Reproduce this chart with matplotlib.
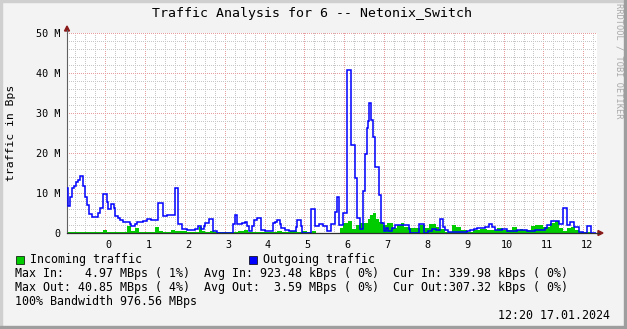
import matplotlib
matplotlib.use('Agg')
import matplotlib.pyplot as plt
from matplotlib.patches import Rectangle, Polygon
from matplotlib.lines import Line2D
import matplotlib.transforms as mtransforms
import numpy as np

plt.rcParams['font.family'] = ['DejaVu Sans Mono']

# outgoing traffic (MBps), step edges in hours
out_edges = [-0.962, -0.936, -0.886, -0.836, -0.786, -0.736, -0.685, -0.635, -0.560, -0.510,
             -0.459, -0.409, -0.334, -0.183, -0.133, -0.058, 0.043, 0.068, 0.143, 0.218,
             0.244, 0.319, 0.369, 0.444, 0.620, 0.645, 0.745, 0.796, 0.947, 1.047,
             1.147, 1.323, 1.449, 1.549, 1.650, 1.750, 1.825, 1.926, 2.051, 2.252,
             2.327, 2.403, 2.478, 2.503, 2.604, 2.704, 2.804, 3.206, 3.256, 3.307,
             3.432, 3.508, 3.558, 3.608, 3.683, 3.733, 3.809, 3.909, 4.010, 4.211,
             4.261, 4.311, 4.387, 4.412, 4.512, 4.613, 4.788, 4.814, 4.914, 4.939,
             5.165, 5.266, 5.366, 5.467, 5.567, 5.668, 5.768, 5.818, 5.868, 5.969,
             6.069, 6.170, 6.270, 6.320, 6.396, 6.471, 6.521, 6.571, 6.596, 6.621,
             6.672, 6.722, 6.772, 6.872, 6.923, 6.998, 7.048, 7.098, 7.199, 7.274,
             7.500, 7.626, 7.651, 7.877, 8.003, 8.103, 8.204, 8.304, 8.405, 8.480,
             8.530, 8.606, 9.083, 9.158, 9.259, 9.334, 9.535, 9.635, 9.711, 9.786,
             9.962, 10.088, 10.339, 10.590, 10.791, 11.042, 11.092, 11.193, 11.394, 11.494,
             11.594, 11.670, 11.770, 11.896, 11.996, 12.097, 12.197, 12.322]
out_vals = [11.3, 6.7, 8.9, 11.2, 11.8, 12.7, 13.3, 14.2, 11.8, 9.1,
            7.0, 4.7, 4.0, 4.9, 6.2, 9.7, 7.7, 6.0, 7.3, 6.2,
            4.3, 3.7, 3.3, 2.7, 2.2, 1.7, 2.2, 2.7, 3.0, 3.6,
            3.2, 7.4, 4.2, 4.5, 4.6, 11.2, 2.2, 1.0, 0.7, 1.0,
            1.7, 1.0, 1.7, 2.5, 3.5, 0.5, 0.1, 2.2, 4.5, 2.2,
            2.5, 2.8, 1.7, 0.5, 1.7, 3.2, 3.7, 0.7, 0.5, 2.4,
            2.7, 3.2, 2.2, 1.3, 0.8, 0.5, 1.4, 3.2, 1.7, 0.0,
            6.0, 1.7, 2.2, 1.7, 0.5, 2.2, 5.3, 8.9, 2.1, 5.0,
            40.8, 22.1, 13.8, 3.8, 1.1, 10.6, 19.8, 26.3, 27.9, 32.4,
            28.3, 24.1, 16.4, 9.4, 2.4, 0.6, 1.2, 0.6, 1.2, 2.1,
            1.9, 1.0, 0.1, 2.2, 0.0, 0.5, 1.1, 0.7, 3.5, 1.5,
            0.7, 0.3, 0.5, 0.8, 1.1, 1.25, 1.6, 2.2, 1.6, 0.8,
            1.1, 0.5, 0.7, 0.5, 0.7, 1.25, 2.0, 3.0, 2.2, 6.3,
            2.0, 2.7, 1.5, 0.3, 0.0, 1.8, 0.0]

# incoming traffic (MBps)
in_edges = [-0.962, -0.058, 0.043, 0.545, 0.645, 0.745, 0.846, 1.248, 1.349, 1.449,
            1.650, 1.750, 2.051, 2.353, 2.428, 2.503, 2.629, 2.729, 3.332, 3.482,
            3.583, 4.311, 4.437, 4.638, 4.814, 4.939, 5.065, 5.190, 5.291, 5.893,
            5.969, 6.094, 6.195, 6.296, 6.396, 6.496, 6.596, 6.647, 6.722, 6.797,
            6.872, 6.973, 7.073, 7.224, 7.325, 7.425, 7.500, 7.651, 7.902, 8.028,
            8.128, 8.304, 8.380, 8.530, 8.706, 8.806, 8.932, 9.083, 9.233, 9.409,
            9.585, 9.836, 9.987, 10.213, 10.339, 10.414, 10.489, 10.690, 10.791, 10.992,
            11.092, 11.168, 11.293, 11.394, 11.494, 11.594, 11.695, 11.795, 11.896, 12.197,
            12.322]
in_vals = [0.3, 0.7, 0.3, 1.7, 0.5, 1.3, 0.3, 1.4, 0.5, 0.3,
           0.8, 0.4, 0.3, 1.4, 0.5, 0.2, 0.5, 0.2, 0.5, 0.7,
           0.3, 0.4, 0.2, 0.5, 0.2, 0.5, 0.2, 0.5, 0.1,
           1.25, 2.6, 3.1, 1.1, 1.9, 2.6, 2.4, 3.4, 4.6, 5.0,
           3.6, 2.75, 1.9, 2.6, 1.25, 2.0, 2.4, 1.6, 1.25, 1.9,
           1.2, 2.2, 1.6, 0.9, 0.3, 2.0, 1.5, 0.7, 0.3, 0.7,
           1.0, 0.7, 1.2, 0.7, 1.5, 0.7, 1.1, 0.7, 1.8, 2.0,
           1.6, 1.4, 2.5, 3.1, 1.2, 0.5, 1.2, 1.4, 0.7, 0.2,
           0.1]

hour_ticks = list(range(0, 13))
y_ticks = [0, 10, 20, 30, 40, 50]
y_labels = ['0', '10 M', '20 M', '30 M', '40 M', '50 M']

title = 'Traffic Analysis for 6 -- Netonix_Switch'
stats = ['Max In:   4.97 MBps ( 1%)  Avg In: 923.48 kBps ( 0%)  Cur In: 339.98 kBps ( 0%)',
         'Max Out: 40.85 MBps ( 4%)  Avg Out:  3.59 MBps ( 0%)  Cur Out:307.32 kBps ( 0%)',
         '100% Bandwidth 976.56 MBps']
stamp = '12:20 17.01.2024'

W, H = 627, 329
def fx(x):
    return x / W
def fy(y):
    return 1 - y / H

fig = plt.figure(figsize=(W / 100, H / 100), dpi=100, facecolor='#F3F3F3')

# frame shading
fig.patches.append(Rectangle((0, fy(2)), 1, 2 / H, transform=fig.transFigure, color='#CFCFCF', zorder=0))
fig.patches.append(Rectangle((0, 0), fx(2), 1, transform=fig.transFigure, color='#CFCFCF', zorder=0))
fig.patches.append(Rectangle((0, 0), 1, 3 / H, transform=fig.transFigure, color='#9E9E9E', zorder=0))
fig.patches.append(Rectangle((fx(624), 0), 3 / W, 1, transform=fig.transFigure, color='#9E9E9E', zorder=0))

PW, PH = 530, 200
ax = fig.add_axes([fx(67), fy(233), PW / W, PH / H])
ax.set_facecolor('white')
x0, x1 = -0.962, 12.345
ax.set_xlim(x0, x1)
ax.set_ylim(0, 50)

# dotted rrdtool-style grid as a pixel raster
minor_c = np.array([0.78, 0.78, 0.78, 1.0])
major_c = np.array([0.91, 0.62, 0.62, 1.0])
grid = np.zeros((PH, PW, 4))
def col(h):
    return int(round((h - x0) / (x1 - x0) * PW))
def row(v):
    return int(round((50 - v) / 50 * PH))
for k in range(-3, 50):
    c = col(k / 4)
    if 0 < c < PW:
        grid[::2, c] = major_c if k % 4 == 0 else minor_c
for v in range(2, 51, 2):
    r = min(row(v), PH - 1)
    grid[r, ::2] = major_c if v % 10 == 0 else minor_c
ax.imshow(grid, extent=(x0, x1, 0, 50), aspect='auto', interpolation='nearest', zorder=0.5)

ax.stairs(in_vals, in_edges, fill=True, color='#00CC00', zorder=2)
ax.stairs(out_vals, out_edges, baseline=None, color='#0000FF', linewidth=1.1, zorder=3)

ax.set_xticks(hour_ticks)
ax.set_yticks(y_ticks)
ax.set_yticklabels(y_labels)
ax.tick_params(which='both', length=0)
ax.tick_params(axis='y', pad=5, labelsize=7.3)
ax.tick_params(axis='x', pad=5, labelsize=7.3)
shift = mtransforms.ScaledTranslation(3.4 / 100, 0, fig.dpi_scale_trans)
for lab in ax.get_xticklabels():
    lab.set_transform(lab.get_transform() + shift)

for s in ['top', 'right']:
    ax.spines[s].set_visible(False)
ax.spines['left'].set_color('#606060')
ax.spines['left'].set_linewidth(0.8)
ax.spines['bottom'].set_color('#303030')
ax.spines['bottom'].set_linewidth(0.9)

# axis extensions and arrows
fig.lines.append(Line2D([fx(67), fx(67)], [fy(33), fy(30)], transform=fig.transFigure, color='#606060', lw=0.8))
fig.lines.append(Line2D([fx(597), fx(599)], [fy(233), fy(233)], transform=fig.transFigure, color='#303030', lw=0.9))
fig.patches.append(Polygon([(fx(64.5), fy(31)), (fx(69.5), fy(31)), (fx(67), fy(26))],
                           closed=True, transform=fig.transFigure, color='#8B1A1A'))
fig.patches.append(Polygon([(fx(598), fy(230.5)), (fx(598), fy(235.5)), (fx(603), fy(233))],
                           closed=True, transform=fig.transFigure, color='#8B1A1A'))

fig.text(fx(312.5), fy(14), title, ha='center', va='center', fontsize=9.5)
fig.text(fx(11), fy(133), 'traffic in Bps', rotation=90, ha='center', va='center', fontsize=8.2)
fig.text(fx(619), fy(61), 'RRDTOOL / TOBI OETIKER', rotation=270, ha='center', va='center',
         fontsize=6.2, color='#A8A8A8')

# legend
fs = 8.37
fig.patches.append(Rectangle((fx(16), fy(263.5)), 8 / W, 8 / H, transform=fig.transFigure,
                             facecolor='#00CC00', edgecolor='black', lw=0.5))
fig.text(fx(30), fy(259.5), 'Incoming traffic', ha='left', va='center', fontsize=fs)
fig.patches.append(Rectangle((fx(249), fy(263.5)), 8 / W, 8 / H, transform=fig.transFigure,
                             facecolor='#0000FF', edgecolor='black', lw=0.5))
fig.text(fx(263), fy(259.5), 'Outgoing traffic', ha='left', va='center', fontsize=fs)
for i, line in enumerate(stats):
    fig.text(fx(15.5), fy(273.5 + 14 * i), line, ha='left', va='center', fontsize=fs)
fig.text(fx(610), fy(315.5), stamp, ha='right', va='center', fontsize=fs)

fig.savefig('out.png', dpi=100, facecolor=fig.get_facecolor())
